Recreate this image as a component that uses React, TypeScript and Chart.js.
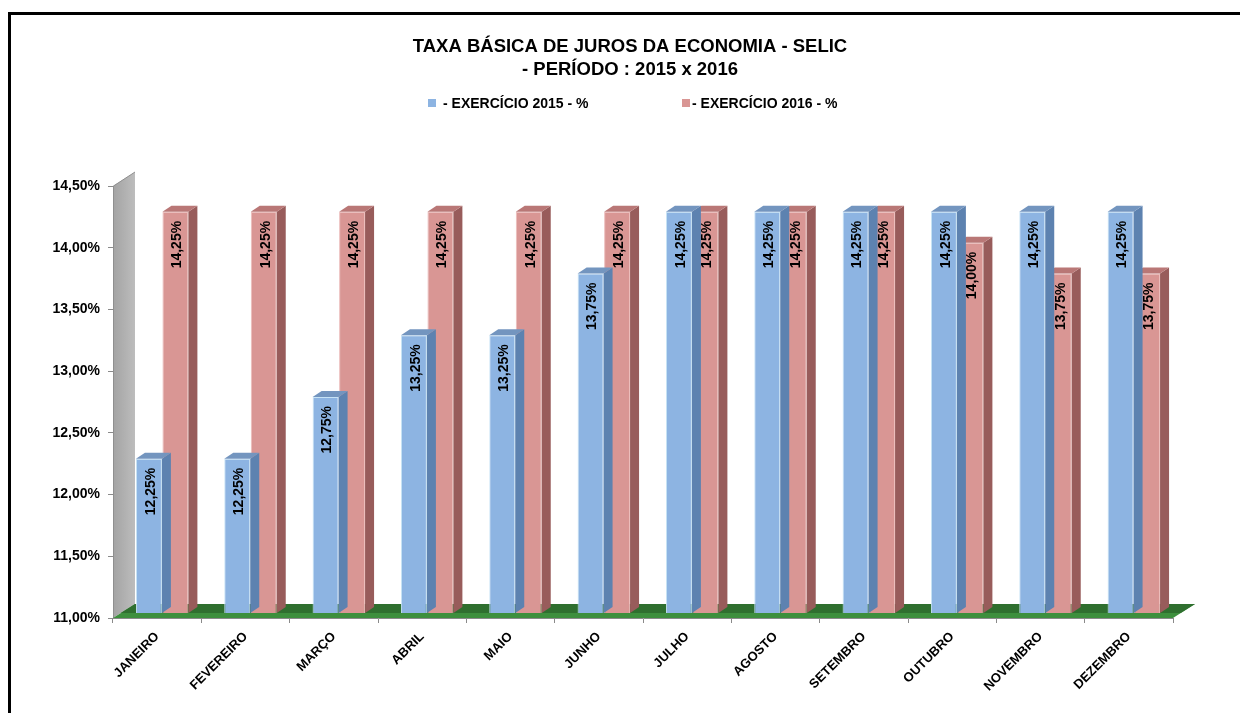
import React, { useEffect, useRef } from "react";
import { Chart, registerables } from "chart.js";

Chart.register(...registerables);

const categories = ["JANEIRO", "FEVEREIRO", "MARÇO", "ABRIL", "MAIO", "JUNHO", "JULHO", "AGOSTO", "SETEMBRO", "OUTUBRO", "NOVEMBRO", "DEZEMBRO"];
const serie2015 = [12.25, 12.25, 12.75, 13.25, 13.25, 13.75, 14.25, 14.25, 14.25, 14.25, 14.25, 14.25];
const serie2016 = [14.25, 14.25, 14.25, 14.25, 14.25, 14.25, 14.25, 14.25, 14.25, 14.0, 13.75, 13.75];
const seriesNames = ["- EXERCÍCIO 2015 - %", "- EXERCÍCIO 2016 - %"];
const titleLines = ["TAXA BÁSICA DE JUROS DA ECONOMIA - SELIC", "- PERÍODO : 2015 x 2016"];
const yMin = 11;
const yMax = 14.5;
const yStep = 0.5;

const FONT = "Arial, 'Liberation Sans', sans-serif";
const FRONT = ["#8db4e2", "#d99694"];
const EDGE = ["#c8e4f6", "#ecbcba"];
const SIDE = ["#5d82b0", "#985c5b"];
const TOP = ["#7395bf", "#b97776"];
const BAR_DX = 9;
const BAR_DY = -6;
const WALL_DX = 22;
const WALL_DY = -14;
const SHIFT_X = 5;
const SHIFT_Y = -5;

const fmt = (v: number) => v.toFixed(2).replace(".", ",") + "%";

const threeD = {
  id: "threeD",
  beforeDatasetsDraw(chart: any) {
    const { ctx, chartArea } = chart;
    const L = chartArea.left;
    const R = chartArea.right;
    const T = chartArea.top;
    const B = chartArea.bottom;
    ctx.save();
    // wall
    const g = ctx.createLinearGradient(L, 0, L + WALL_DX, 0);
    g.addColorStop(0, "#a3a3a3");
    g.addColorStop(1, "#bdbdbd");
    ctx.fillStyle = g;
    ctx.beginPath();
    ctx.moveTo(L, T);
    ctx.lineTo(L + WALL_DX, T + WALL_DY);
    ctx.lineTo(L + WALL_DX, B + WALL_DY);
    ctx.lineTo(L, B);
    ctx.closePath();
    ctx.fill();
    ctx.strokeStyle = "#8f8f8f";
    ctx.lineWidth = 1;
    ctx.beginPath();
    ctx.moveTo(L + 0.5, B);
    ctx.lineTo(L + 0.5, T);
    ctx.lineTo(L + WALL_DX, T + WALL_DY);
    ctx.stroke();
    // floor
    ctx.fillStyle = "#3d8f3d";
    ctx.beginPath();
    ctx.moveTo(L, B);
    ctx.lineTo(L + WALL_DX, B + WALL_DY);
    ctx.lineTo(R + WALL_DX, B + WALL_DY);
    ctx.lineTo(R, B);
    ctx.closePath();
    ctx.fill();
    ctx.fillStyle = "#2f6f2f";
    ctx.beginPath();
    ctx.moveTo(L + WALL_DX * 0.35, B + WALL_DY * 0.35);
    ctx.lineTo(L + WALL_DX, B + WALL_DY);
    ctx.lineTo(R + WALL_DX, B + WALL_DY);
    ctx.lineTo(R + WALL_DX * 0.35, B + WALL_DY * 0.35);
    ctx.closePath();
    ctx.fill();
    ctx.restore();
    ctx.save();
    ctx.translate(SHIFT_X, SHIFT_Y);
  },
  afterDatasetDraw(chart: any, args: any) {
    const { ctx, chartArea } = chart;
    const i = args.index;
    const meta = chart.getDatasetMeta(i);
    meta.data.forEach((bar: any) => {
      const { x, y, width } = bar.getProps(["x", "y", "width"], true);
      const base = chartArea.bottom;
      const l = x - width / 2;
      const r = x + width / 2;
      // side
      ctx.fillStyle = SIDE[i];
      ctx.beginPath();
      ctx.moveTo(r, y);
      ctx.lineTo(r + BAR_DX, y + BAR_DY);
      ctx.lineTo(r + BAR_DX, base + BAR_DY);
      ctx.lineTo(r, base);
      ctx.closePath();
      ctx.fill();
      // top
      ctx.fillStyle = TOP[i];
      ctx.beginPath();
      ctx.moveTo(l, y);
      ctx.lineTo(l + BAR_DX, y + BAR_DY);
      ctx.lineTo(r + BAR_DX, y + BAR_DY);
      ctx.lineTo(r, y);
      ctx.closePath();
      ctx.fill();
    });
  },
  afterDatasetsDraw(chart: any) {
    const { ctx } = chart;
    ctx.font = `bold 14px ${FONT}`;
    ctx.fillStyle = "#000";
    ctx.textAlign = "right";
    ctx.textBaseline = "middle";
    chart.data.datasets.forEach((ds: any, i: number) => {
      const meta = chart.getDatasetMeta(i);
      meta.data.forEach((bar: any, j: number) => {
        const { x, y } = bar.getProps(["x", "y"], true);
        ctx.save();
        ctx.translate(x + 2, y + 9);
        ctx.rotate(-Math.PI / 2);
        ctx.fillText(fmt(ds.data[j]), 0, 0);
        ctx.restore();
      });
    });
    ctx.restore();
  },
  afterDraw(chart: any) {
    const { ctx } = chart;
    ctx.save();
    ctx.fillStyle = "#000";
    ctx.textAlign = "center";
    ctx.textBaseline = "middle";
    ctx.font = `bold 18.5px ${FONT}`;
    ctx.fillText(titleLines[0], 619, 32);
    ctx.fillText(titleLines[1], 619, 55);
    ctx.font = `bold 14px ${FONT}`;
    ctx.textAlign = "left";
    const items = [
      { sx: 417, tx: 432 },
      { sx: 671, tx: 681 },
    ];
    items.forEach((it, i) => {
      ctx.fillStyle = FRONT[i];
      ctx.fillRect(it.sx, 84, 8, 8);
      ctx.fillStyle = "#000";
      ctx.fillText(seriesNames[i], it.tx, 89);
    });
    ctx.restore();
  },
};

export default function App() {
  const ref = useRef<HTMLCanvasElement>(null);
  useEffect(() => {
    if (!ref.current) return;
    const chart = new Chart(ref.current, {
      type: "bar",
      data: {
        labels: categories,
        datasets: [
          {
            label: seriesNames[0],
            data: serie2015,
            backgroundColor: FRONT[0],
            borderColor: EDGE[0],
            borderWidth: 1,
            categoryPercentage: 0.6,
            barPercentage: 0.98,
          },
          {
            label: seriesNames[1],
            data: serie2016,
            backgroundColor: FRONT[1],
            borderColor: EDGE[1],
            borderWidth: 1,
            categoryPercentage: 0.6,
            barPercentage: 0.98,
          },
        ],
      },
      options: {
        animation: false,
        responsive: true,
        maintainAspectRatio: false,
        layout: { padding: { top: 171, left: 40, right: 67, bottom: 0 } },
        plugins: {
          legend: { display: false },
          title: { display: false },
          tooltip: { enabled: false },
        },
        scales: {
          x: {
            offset: true,
            grid: { display: true, drawOnChartArea: false, tickLength: 5, color: "#8a8a8a", offset: true },
            border: { display: true, color: "#8a8a8a" },
            ticks: {
              minRotation: 45,
              maxRotation: 45,
              padding: 6,
              color: "#000",
              font: { family: FONT, size: 13, weight: "bold" },
            },
            afterFit(scale: any) {
              scale.height = 95;
            },
          },
          y: {
            min: yMin,
            max: yMax,
            grid: { display: true, drawOnChartArea: false, tickLength: 5, color: "#8a8a8a" },
            border: { display: false },
            ticks: {
              stepSize: yStep,
              padding: 8,
              color: "#000",
              font: { family: FONT, size: 14, weight: "bold" },
              callback: (v: any) => fmt(Number(v)),
            },
            afterFit(scale: any) {
              scale.width = 62;
            },
          },
        },
      },
      plugins: [threeD],
    });
    return () => chart.destroy();
  }, []);
  return (
    <div
      style={{
        position: "absolute",
        left: 8,
        top: 12,
        width: 1232,
        height: 701,
        boxSizing: "border-box",
        borderTop: "3px solid #000",
        borderLeft: "3px solid #000",
        background: "#fff",
        overflow: "hidden",
      }}
    >
      <div style={{ position: "relative", width: 1229, height: 698 }}>
        <canvas ref={ref} />
      </div>
    </div>
  );
}
